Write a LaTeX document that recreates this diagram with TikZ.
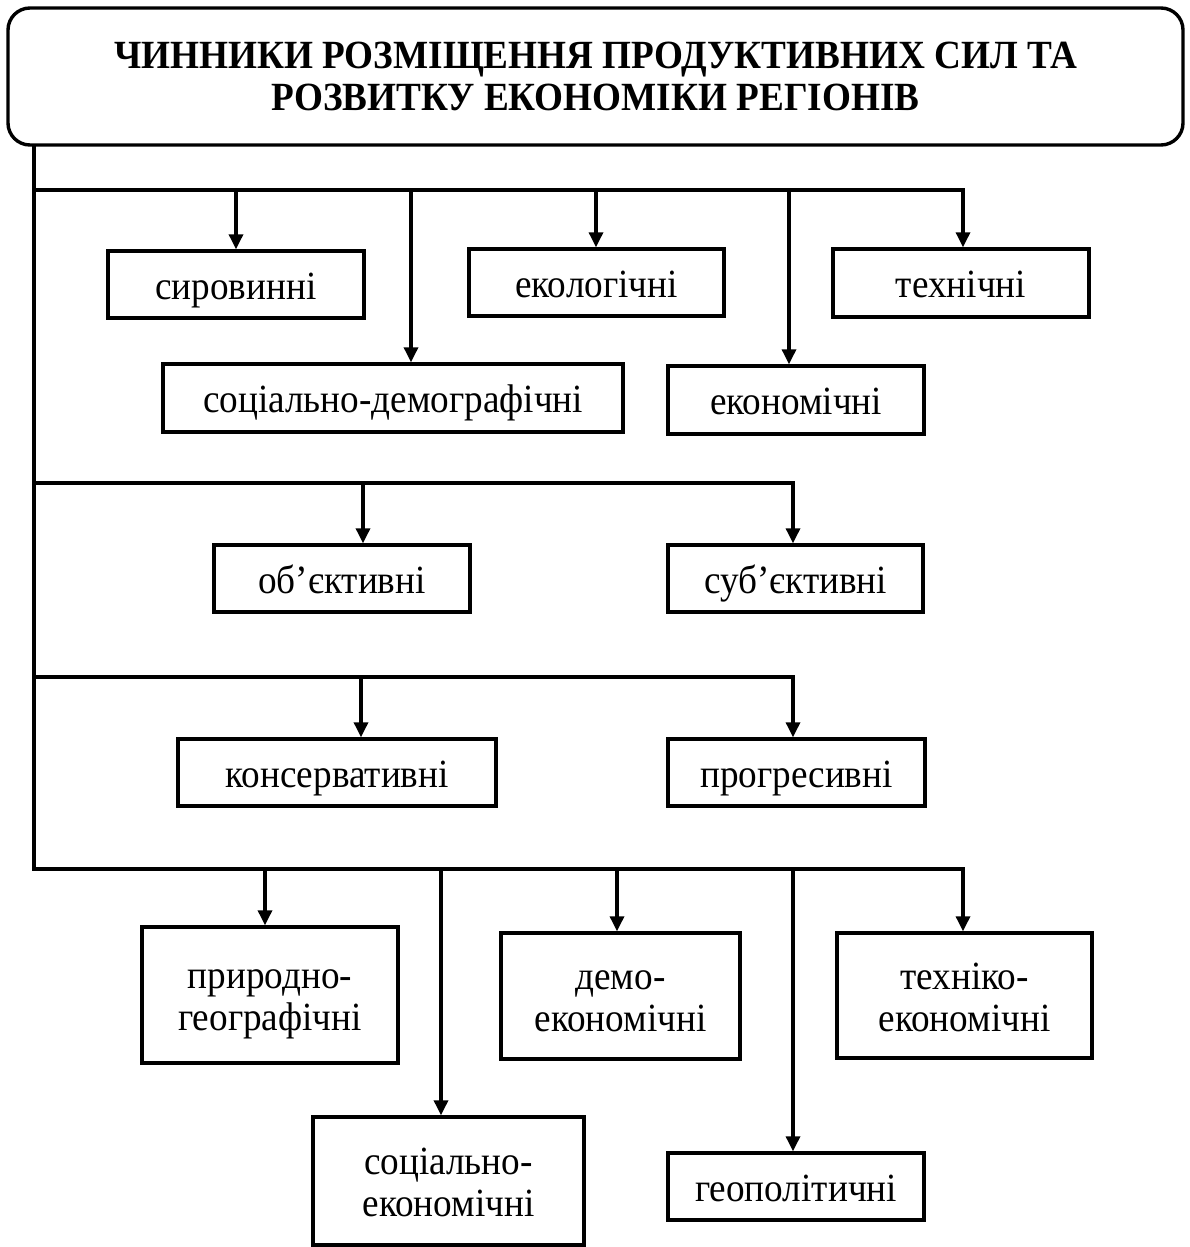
\documentclass[tikz,border=0pt]{standalone}
\usepackage{fontspec}
\setmainfont{Liberation Serif}[FakeStretch=0.93, BoldFont={Liberation Serif Bold}, BoldFeatures={FakeStretch=0.93}]
\usetikzlibrary{arrows.meta}
\newcommand\twoline[2]{\begin{tabular}[t]{@{}c@{}}#1\\#2\end{tabular}}
\begin{document}
\begin{tikzpicture}[x=1pt,y=-1pt,
  ln/.style={line width=3.3pt, line cap=rect},
  arr/.style={line width=3.3pt, -{Triangle[length=15pt,width=14pt]}},
  bx/.style={draw, line width=3.4pt, inner sep=0pt,
    text height=29pt, text depth=0pt,
    font=\fontsize{40}{42}\selectfont},
  bxx/.style={bx, text depth=42pt},
  ttl/.style={draw, line width=3.4pt, rounded corners=22pt, inner sep=0pt,
    text height=27pt, text depth=42pt,
    font=\bfseries\fontsize{40}{42}\selectfont}]
\useasboundingbox (0,0) rectangle (1190,1247);

\node[ttl, minimum width=1175pt, minimum height=137pt] (title) at (595.5,76.5)
  {\twoline{ЧИННИКИ РОЗМІЩЕННЯ ПРОДУКТИВНИХ СИЛ ТА}{РОЗВИТКУ ЕКОНОМІКИ РЕГІОНІВ}};

% boxes
\node[bx, minimum width=256pt, minimum height=67pt] (sir) at (236,284.5) {сировинні};
\node[bx, minimum width=255pt, minimum height=67pt] (eko) at (596.5,282.5) {екологічні};
\node[bx, minimum width=256pt, minimum height=68pt] (teh) at (961,283) {технічні};
\node[bx, minimum width=460pt, minimum height=68pt] (sd) at (393,398) {соціально-демографічні};
\node[bx, minimum width=256pt, minimum height=68pt] (ekn) at (796,400) {економічні};
\node[bx, minimum width=256pt, minimum height=67pt] (obj) at (342,578.5) {об’єктивні};
\node[bx, minimum width=255pt, minimum height=67pt] (sub) at (795.5,578.5) {суб’єктивні};
\node[bx, minimum width=318pt, minimum height=67pt] (kons) at (337,772.5) {консервативні};
\node[bx, minimum width=257pt, minimum height=67pt] (prog) at (796.5,772.5) {прогресивні};
\node[bxx, minimum width=256pt, minimum height=136pt] (prir) at (270,995) {\twoline{природно-}{географічні}};
\node[bxx, minimum width=239pt, minimum height=126pt] (demo) at (620.5,996) {\twoline{демо-}{економічні}};
\node[bxx, minimum width=255pt, minimum height=125pt] (tehek) at (964.5,995.5) {\twoline{техніко-}{економічні}};
\node[bxx, minimum width=271pt, minimum height=128pt] (sek) at (448.5,1181) {\twoline{соціально-}{економічні}};
\node[bx, minimum width=256pt, minimum height=67pt] (geo) at (796,1186.5) {геополітичні};

% junctions on the trunk
\coordinate (j1) at (34,190);
\coordinate (j2) at (34,483);
\coordinate (j3) at (34,677);
\coordinate (j4) at (34,869);
% ends of the branches
\coordinate (e1) at (963,190);
\coordinate (e2) at (793,483);
\coordinate (e3) at (793,677);
\coordinate (e4) at (963,869);

\draw[ln] (title.south -| j1) -- (j4);
\draw[ln] (j1) -- (e1);
\draw[ln] (j2) -- (e2);
\draw[ln] (j3) -- (e3);
\draw[ln] (j4) -- (e4);

% drop points
\coordinate (d11) at (236,190);
\coordinate (d12) at (411,190);
\coordinate (d13) at (596,190);
\coordinate (d14) at (789,190);
\coordinate (d21) at (363,483);
\coordinate (d31) at (361,677);
\coordinate (d41) at (265,869);
\coordinate (d42) at (441,869);
\coordinate (d43) at (617,869);
\coordinate (d44) at (793,869);

\draw[arr] (d11) -- (d11 |- sir.north);
\draw[arr] (d12) -- (d12 |- sd.north);
\draw[arr] (d13) -- (d13 |- eko.north);
\draw[arr] (d14) -- (d14 |- ekn.north);
\draw[arr] (e1) -- (e1 |- teh.north);
\draw[arr] (d21) -- (d21 |- obj.north);
\draw[arr] (e2) -- (e2 |- sub.north);
\draw[arr] (d31) -- (d31 |- kons.north);
\draw[arr] (e3) -- (e3 |- prog.north);
\draw[arr] (d41) -- (d41 |- prir.north);
\draw[arr] (d42) -- (d42 |- sek.north);
\draw[arr] (d43) -- (d43 |- demo.north);
\draw[arr] (d44) -- (d44 |- geo.north);
\draw[arr] (e4) -- (e4 |- tehek.north);
\end{tikzpicture}
\end{document}
